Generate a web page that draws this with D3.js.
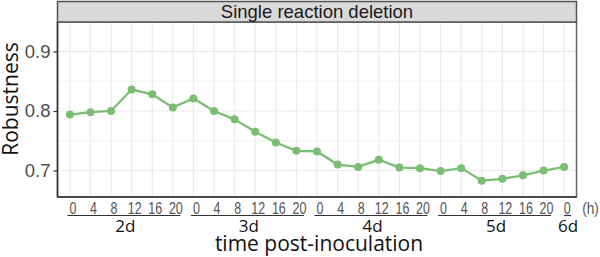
<!DOCTYPE html>
<html>
<head>
<meta charset="utf-8">
<script src="https://cdn.jsdelivr.net/npm/d3@7"></script>
<style>
  body { margin: 0; background: #fff; }
  svg { display: block; }
</style>
</head>
<body>
<div id="chart"></div>
<script>
// data
const days = ["2d", "3d", "4d", "5d", "6d"];
const hours = ["0", "4", "8", "12", "16", "20"];
const robustness = [
  0.794, 0.798, 0.800, 0.836, 0.828, 0.806,
  0.821, 0.800, 0.786, 0.765, 0.747, 0.733,
  0.732, 0.710, 0.706, 0.718, 0.705, 0.704,
  0.699, 0.704, 0.683, 0.686, 0.692, 0.700,
  0.706
];
const yTicks = [0.7, 0.8, 0.9];

// build the points: day + hour
let points = robustness.map(function(v, i) {
  return { key: "p" + i, day: days[Math.floor(i / 6)], hour: hours[i % 6], value: v };
});

const W = 600, H = 257;
const panel = { left: 57.5, right: 576.5, top: 22, bottom: 197 };
const green = "#7cbd74";

const svg = d3.select("#chart").append("svg")
  .attr("width", W).attr("height", H);

// x scale: discrete, with ggplot-like 0.6 expansion
const n = points.length;
const step = (panel.right - panel.left) / (n - 1 + 1.2);
const xScale = d3.scalePoint()
  .domain(points.map(d => d.key))
  .range([panel.left + 0.6 * step, panel.right - 0.6 * step]);

const yScale = d3.scaleLinear()
  .domain([0.6555, 0.9495])
  .range([panel.bottom, panel.top]);

// grid lines
const grid = svg.append("g");
grid.selectAll(".minor")
  .data([0.75, 0.85])
  .enter().append("line")
  .attr("x1", panel.left).attr("x2", panel.right)
  .attr("y1", d => yScale(d)).attr("y2", d => yScale(d))
  .attr("stroke", "#f0f0f0").attr("stroke-width", 1);
grid.selectAll(".major")
  .data(yTicks)
  .enter().append("line")
  .attr("x1", panel.left).attr("x2", panel.right)
  .attr("y1", d => yScale(d)).attr("y2", d => yScale(d))
  .attr("stroke", "#ebebeb").attr("stroke-width", 1.2);
grid.selectAll(".vgrid")
  .data(points)
  .enter().append("line")
  .attr("x1", d => xScale(d.key)).attr("x2", d => xScale(d.key))
  .attr("y1", panel.top).attr("y2", panel.bottom)
  .attr("stroke", "#ebebeb").attr("stroke-width", 1.2);

// panel border (top/right gray)
svg.append("rect")
  .attr("x", panel.left).attr("y", panel.top)
  .attr("width", panel.right - panel.left).attr("height", panel.bottom - panel.top)
  .attr("fill", "none").attr("stroke", "#666").attr("stroke-width", 1.5);

// strip
svg.append("rect")
  .attr("x", panel.left).attr("y", 1.5)
  .attr("width", panel.right - panel.left).attr("height", panel.top - 1.5)
  .attr("fill", "#d9d9d9").attr("stroke", "#555").attr("stroke-width", 1.5);
svg.append("text")
  .attr("x", (panel.left + panel.right) / 2)
  .attr("y", 17.5)
  .attr("text-anchor", "middle")
  .attr("font-family", "Liberation Sans, Arial, sans-serif")
  .attr("font-size", 18.5)
  .attr("fill", "#1a1a1a")
  .text("Single reaction deletion");

// left and bottom axis lines
svg.append("line")
  .attr("x1", panel.left).attr("x2", panel.left)
  .attr("y1", panel.top).attr("y2", panel.bottom)
  .attr("stroke", "#333").attr("stroke-width", 1.5);
svg.append("line")
  .attr("x1", panel.left).attr("x2", panel.right)
  .attr("y1", panel.bottom).attr("y2", panel.bottom)
  .attr("stroke", "#333").attr("stroke-width", 1.5);

// y axis
const yAxis = d3.axisLeft(yScale)
  .tickValues(yTicks)
  .tickSize(4)
  .tickPadding(3)
  .tickFormat(d3.format(".1f"));
const yg = svg.append("g")
  .attr("transform", `translate(${panel.left},0)`)
  .call(yAxis);
yg.select(".domain").remove();
yg.selectAll(".tick line").attr("stroke", "#333").attr("stroke-width", 1.2);
yg.selectAll(".tick text")
  .attr("font-family", "Liberation Sans, Arial, sans-serif")
  .attr("font-size", 18.5)
  .attr("fill", "#4d4d4d");

// line and points
const line = d3.line()
  .x(d => xScale(d.key))
  .y(d => yScale(d.value));
svg.append("path")
  .datum(points)
  .attr("d", line)
  .attr("fill", "none")
  .attr("stroke", green)
  .attr("stroke-width", 2.3);
svg.selectAll(".pt")
  .data(points)
  .enter().append("circle")
  .attr("cx", d => xScale(d.key))
  .attr("cy", d => yScale(d.value))
  .attr("r", 4)
  .attr("fill", green);

// x hour labels (narrow font, squeezed horizontally)
svg.selectAll(".hour")
  .data(points)
  .enter().append("text")
  .attr("transform", d => `translate(${xScale(d.key) + 3},213.5) scale(0.78,1)`)
  .attr("text-anchor", "middle")
  .attr("font-family", "Liberation Sans, Arial, sans-serif")
  .attr("font-size", 16)
  .attr("fill", "#555")
  .text(d => d.hour);

svg.append("text")
  .attr("transform", "translate(590.5,213.5) scale(0.85,1)")
  .attr("text-anchor", "middle")
  .attr("font-family", "Liberation Sans, Arial, sans-serif")
  .attr("font-size", 16)
  .attr("fill", "#555")
  .text("(h)");

// day groups: underline + label
const dayGroups = days.map(function(day) {
  const pts = points.filter(p => p.day === day);
  return { day: day, first: pts[0].key, last: pts[pts.length - 1].key };
});
svg.selectAll(".dayline")
  .data(dayGroups)
  .enter().append("line")
  .attr("x1", d => xScale(d.first) - (d.first === d.last ? 0 : 2.5))
  .attr("x2", d => xScale(d.last) + (d.first === d.last ? 7 : 7.5))
  .attr("y1", 215.5).attr("y2", 215.5)
  .attr("stroke", "#333").attr("stroke-width", 1.2);
svg.selectAll(".daylabel")
  .data(dayGroups)
  .enter().append("text")
  .attr("x", d => (xScale(d.first) + xScale(d.last)) / 2 + 4)
  .attr("y", 232)
  .attr("text-anchor", "middle")
  .attr("font-family", "Open Sans, sans-serif")
  .attr("font-size", 17)
  .attr("fill", "#111")
  .text(d => d.day);

// axis titles
svg.append("text")
  .attr("x", 319)
  .attr("y", 251)
  .attr("text-anchor", "middle")
  .attr("font-family", "Open Sans, sans-serif")
  .attr("font-size", 21)
  .attr("fill", "#111")
  .text("time post-inoculation");

svg.append("text")
  .attr("transform", "translate(18,99) rotate(-90)")
  .attr("text-anchor", "middle")
  .attr("font-family", "Open Sans, sans-serif")
  .attr("font-size", 21)
  .attr("fill", "#111")
  .text("Robustness");
</script>
</body>
</html>
